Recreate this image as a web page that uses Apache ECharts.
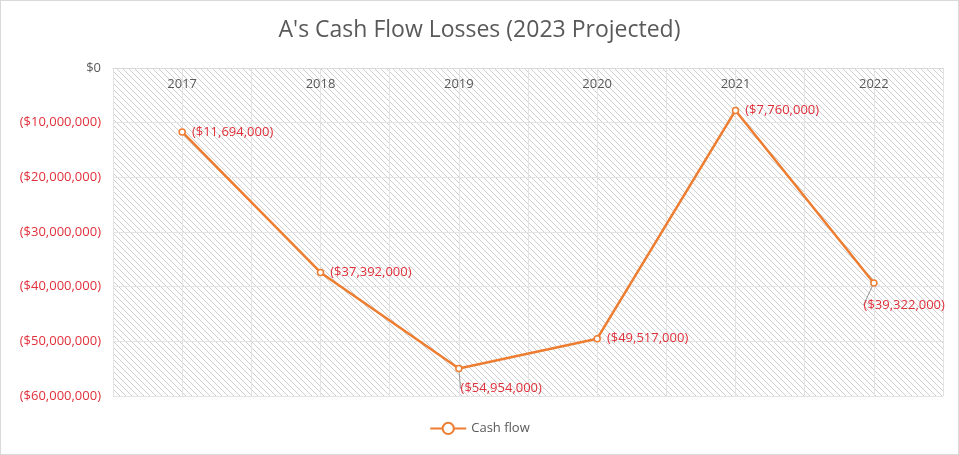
<!DOCTYPE html>
<html><head><meta charset="utf-8">
<script src="https://cdn.jsdelivr.net/npm/echarts@6/dist/echarts.min.js"></script>
<style>html,body{margin:0;padding:0;background:#fff}#c{width:957px;height:453px;border:1px solid #d9d9d9}</style>
</head><body><div id="c"></div>
<script>
const years = ['2017','2018','2019','2020','2021','2022'];
const cashFlow = [-11694000,-37392000,-54954000,-49517000,-7760000,-39322000];
const halfSlots = ['a','b','c','d','e','f','g','h','i','j','k','l'];
const leaderIdx = [2,5];

function fmt(v){ if(v===0) return '$0'; return '($'+Math.abs(v).toLocaleString('en-US')+')'; }

const pc = document.createElement('canvas'); pc.width=6; pc.height=6;
const g = pc.getContext('2d'); g.fillStyle='#fff'; g.fillRect(0,0,6,6);
g.strokeStyle='#cfcfcf'; g.lineWidth=1;
g.beginPath(); g.moveTo(0,0); g.lineTo(6,6); g.moveTo(-3,3); g.lineTo(3,9); g.moveTo(3,-3); g.lineTo(9,3); g.stroke();

const chart = echarts.init(document.getElementById('c'));
const font = 'Open Sans, Liberation Sans, sans-serif';
chart.setOption({
  animation:false,
  title:{text:"A's Cash Flow Losses (2023 Projected)",left:'center',top:13,textStyle:{fontFamily:font,fontSize:23,fontWeight:'normal',color:'#595959'}},
  legend:{bottom:14,left:'center',itemWidth:36,textStyle:{fontFamily:font,fontSize:13,color:'#595959'},data:['Cash flow']},
  grid:{left:112,right:15,top:67,bottom:58,show:true,backgroundColor:{image:pc,repeat:'repeat'},borderWidth:0},
  xAxis:[
    {type:'category',data:years,position:'top',boundaryGap:true,axisLine:{show:true,lineStyle:{color:'#d9d9d9'}},axisTick:{show:false},
     axisLabel:{inside:true,margin:10,verticalAlign:'top',fontFamily:font,fontSize:13,color:'#595959'},splitLine:{show:false}},
    {type:'category',data:halfSlots,boundaryGap:true,show:true,axisLine:{show:false},axisTick:{show:false},axisLabel:{show:false},
     splitLine:{show:true,interval:0,lineStyle:{color:'#e3e3e3'}}}
  ],
  yAxis:{type:'value',min:-60000000,max:0,interval:10000000,axisLine:{show:false},axisTick:{show:false},
    axisLabel:{formatter:fmt,fontFamily:font,fontSize:13,margin:12,color:function(v){return Number(v)<0?'#e0303a':'#595959';}},
    splitLine:{lineStyle:{color:'#e3e3e3'}}},
  series:[{name:'Cash flow',type:'line',
    data:cashFlow.map((v,i)=>({value:v,labelLine:{show:leaderIdx.includes(i)}})),
    symbol:'circle',symbolSize:6,
    itemStyle:{color:'#fff',borderColor:'#ed7d31',borderWidth:1.5},lineStyle:{color:'#ed7d31',width:2.5},
    label:{show:true,formatter:p=>fmt(p.value),fontFamily:font,fontSize:13,color:'#e0303a',position:'right',distance:6},
    labelLayout:function(p){const i=p.dataIndex; if(i===2) return {dx:-8,dy:20}; if(i===5) return {dx:-20,dy:22}; return {};},
    labelLine:{show:false,lineStyle:{color:'#999'}}
  }]
});
</script></body></html>
